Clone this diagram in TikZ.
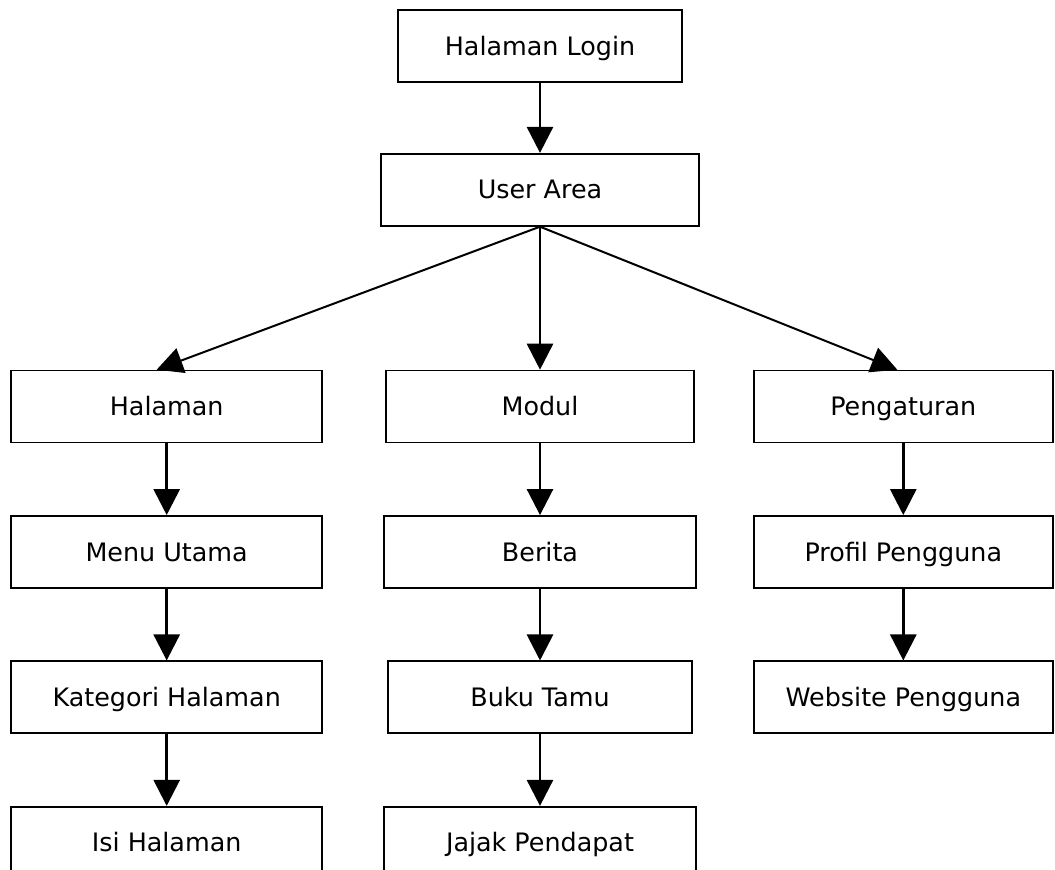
\documentclass[tikz,border=0pt]{standalone}
\usepackage{fontspec}
\setmainfont{DejaVu Sans}
\usetikzlibrary{arrows.meta, positioning}

\begin{document}
\begin{tikzpicture}[
			node distance=35.8pt and 31pt,
			box/.style={rectangle, draw=black, line width=0.9pt,
				minimum width=155.5pt, minimum height=36pt, align=center,
				text height=10.4pt, text depth=1.2pt,
				font=\fontsize{12.7}{15}\selectfont},
			arr/.style={-{Triangle[length=13pt, width=13pt]}, line width=1.4pt}
			]
			\useasboundingbox (-270pt,23pt) rectangle (257.5pt,-412pt);
			
			\node[box, minimum width=142pt] (login) at (0,0) {Halaman Login};
			\node[box, minimum width=159pt, below=35pt of login] (ua) {User Area};
			\node[box, minimum width=154pt, below=71.5pt of ua] (mod) {Modul};
			\node[box, left=of mod] (hal) {Halaman};
			\node[box, minimum width=149.5pt, right=29pt of mod] (peng) {Pengaturan};
			
			\node[box, below=of hal] (menu) {Menu Utama};
			\node[box, minimum width=156pt, below=of mod] (berita) {Berita};
			\node[box, minimum width=149.5pt, below=of peng] (profil) {Profil Pengguna};
			
			\node[box, below=of menu] (kat) {Kategori Halaman};
			\node[box, minimum width=152pt, below=of berita] (buku) {Buku Tamu};
			\node[box, minimum width=149.5pt, below=of profil] (web) {Website Pengguna};
			
			\node[box, below=of kat] (isi) {Isi Halaman};
			\node[box, minimum width=156pt, below=of buku] (jajak) {Jajak Pendapat};
			
			\draw[arr] (login) -- (ua);
			\draw[arr, line width=1pt] (ua.south) -- ([xshift=-5pt]hal.north);
			\draw[arr] (ua.south) -- (mod.north);
			\draw[arr, line width=1pt] (ua.south) -- ([xshift=-3pt]peng.north);
			
			\draw[arr] (hal) -- (menu);
			\draw[arr] (menu) -- (kat);
			\draw[arr] (kat) -- (isi);
			\draw[arr] (mod) -- (berita);
			\draw[arr] (berita) -- (buku);
			\draw[arr] (buku) -- (jajak);
			\draw[arr] (peng) -- (profil);
			\draw[arr] (profil) -- (web);
		\end{tikzpicture}
\end{document}
